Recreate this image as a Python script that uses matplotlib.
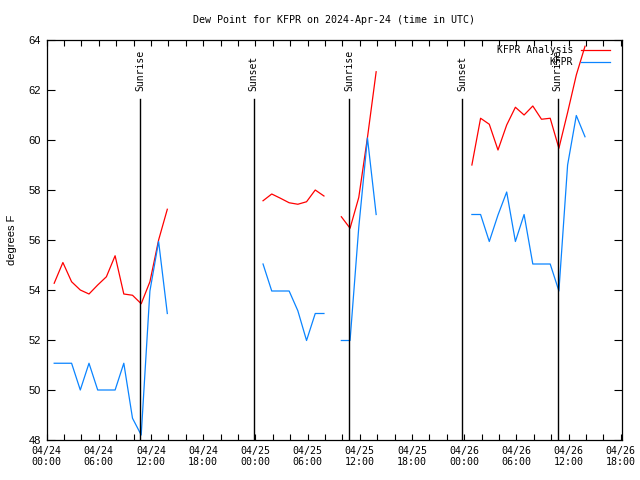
import matplotlib
matplotlib.use("Agg")
import matplotlib.pyplot as plt
import numpy as np

# hours since 2024-04-24 00:00 UTC (obs at :53)
seg_start = [0, 24, 33, 48]

analysis = [
    [54.27, 55.1, 54.33, 54.0, 53.84, 54.2, 54.53, 55.37, 53.84, 53.79, 53.45, 54.33, 56.0, 57.23],
    [57.57, 57.84, 57.67, 57.49, 57.43, 57.53, 58.0, 57.76],
    [56.93, 56.47, 57.7, 60.1, 62.73],
    [59.0, 60.87, 60.63, 59.6, 60.6, 61.31, 61.0, 61.36, 60.83, 60.87, 59.67, 61.1, 62.6, 63.75],
]
obs = [
    [51.07, 51.07, 51.07, 50.0, 51.07, 50.0, 50.0, 50.0, 51.07, 48.87, 48.2, 53.96, 55.94, 53.06],
    [55.04, 53.96, 53.96, 53.96, 53.17, 51.98, 53.06, 53.06],
    [51.98, 51.98, 56.5, 60.08, 57.02],
    [57.02, 57.02, 55.94, 57.0, 57.92, 55.94, 57.02, 55.04, 55.04, 55.04, 53.96, 59.0, 60.98, 60.13],
]

sun_times = [10.8, 23.8, 34.77, 47.8, 58.75]
sun_labels = ["Sunrise", "Sunset", "Sunrise", "Sunset", "Sunrise"]

tick_hours = [0, 6, 12, 18, 24, 30, 36, 42, 48, 54, 60, 66]
tick_labels = ["04/24\n00:00", "04/24\n06:00", "04/24\n12:00", "04/24\n18:00",
               "04/25\n00:00", "04/25\n06:00", "04/25\n12:00", "04/25\n18:00",
               "04/26\n00:00", "04/26\n06:00", "04/26\n12:00", "04/26\n18:00"]

mono = "DejaVu Sans Mono"
sans = "Liberation Sans"

fig = plt.figure(figsize=(6.4, 4.8), dpi=100)
ax = fig.add_axes([46.5 / 640, 40 / 480, 575.2 / 640, 400 / 480])

red = "#ff0000"
blue = "#0a84ff"
for i, s in enumerate(seg_start):
    t = np.arange(len(analysis[i])) + s + 53 / 60
    ax.plot(t, analysis[i], color=red, lw=0.9, label="KFPR Analysis" if i == 0 else None)
    t = np.arange(len(obs[i])) + s + 53 / 60
    ax.plot(t, obs[i], color=blue, lw=0.9, label="KFPR" if i == 0 else None)

for t, lab in zip(sun_times, sun_labels):
    ax.plot([t, t], [48, 61.63], color="black", lw=1.0)
    ax.text(t, 61.95, lab, rotation=90, ha="center", va="bottom", fontsize=7, family=mono)

ax.set_xlim(0, 66.1)
ax.set_ylim(48, 64)
ax.set_xticks(tick_hours)
ax.set_xticklabels(tick_labels, family=mono, fontsize=7.2)
ax.set_xticks(np.arange(0, 67, 2), minor=True)
ax.set_yticks(np.arange(48, 65, 2))
ax.set_yticklabels([str(v) for v in range(48, 65, 2)], family=sans, fontsize=8)
ax.tick_params(axis="x", which="both", direction="in", top=True, length=4, width=0.8, pad=4)
ax.tick_params(axis="y", direction="in", right=True, length=6, width=0.8, pad=4)
for sp in ax.spines.values():
    sp.set_linewidth(0.9)

ax.set_ylabel("degrees F", family=sans, fontsize=8, labelpad=8)
ax.set_title("Dew Point for KFPR on 2024-Apr-24 (time in UTC)", family=mono, fontsize=7.2, pad=12)

ax.legend(loc="upper right", bbox_to_anchor=(0.9797, 0.9875), frameon=False, markerfirst=False,
          borderaxespad=0, borderpad=0, handlelength=3.0, handletextpad=0.8, labelspacing=0.25,
          prop={"family": mono, "size": 7})

fig.savefig("out.png", dpi=100)
